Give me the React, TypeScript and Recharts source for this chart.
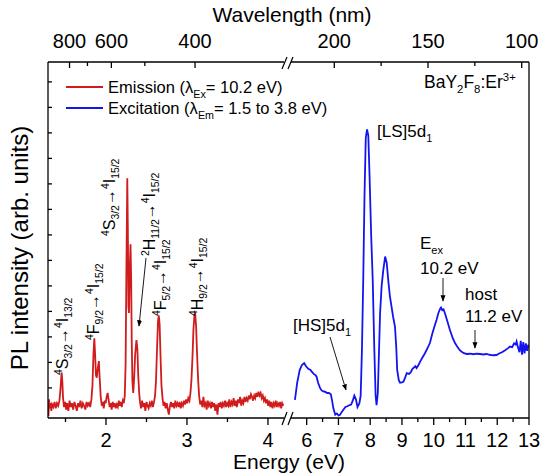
import React from 'react';
import { LineChart, Line, XAxis, YAxis } from 'recharts';

// emission spectrum (excited at 10.2 eV), energy in eV / intensity in arb. units
const emissionEnergy = [
  1.29, 1.297, 1.305, 1.315, 1.325, 1.335, 1.35, 1.365, 1.38, 1.395, 1.41, 1.425, 1.437, 1.446, 1.453, 1.461, 1.47,
  1.482, 1.495, 1.508, 1.52, 1.535, 1.55, 1.565, 1.58, 1.595, 1.61, 1.625, 1.64, 1.655, 1.67, 1.685, 1.7, 1.715,
  1.73, 1.745, 1.76, 1.775, 1.79, 1.805, 1.82, 1.833, 1.845, 1.856, 1.866, 1.876, 1.886, 1.9, 1.912, 1.922, 1.935,
  1.948, 1.96, 1.972, 1.985, 1.997, 2.008, 2.02, 2.032, 2.045, 2.058, 2.07, 2.083, 2.095, 2.108, 2.12, 2.133, 2.146,
  2.158, 2.17, 2.183, 2.195, 2.208, 2.22, 2.232, 2.242, 2.252, 2.263, 2.27, 2.277, 2.284, 2.292, 2.303, 2.311, 2.318,
  2.326, 2.336, 2.348, 2.36, 2.376, 2.388, 2.398, 2.41, 2.42, 2.433, 2.446, 2.46, 2.473, 2.486, 2.5, 2.513, 2.526,
  2.54, 2.553, 2.566, 2.58, 2.593, 2.606, 2.618, 2.63, 2.642, 2.652, 2.662, 2.673, 2.685, 2.698, 2.71, 2.723, 2.736,
  2.75, 2.763, 2.776, 2.79, 2.803, 2.816, 2.83, 2.843, 2.856, 2.87, 2.883, 2.896, 2.91, 2.923, 2.936, 2.95, 2.963,
  2.976, 2.99, 3.003, 3.016, 3.03, 3.043, 3.055, 3.068, 3.08, 3.092, 3.102, 3.113, 3.125, 3.138, 3.15, 3.163, 3.176,
  3.19, 3.203, 3.216, 3.23, 3.243, 3.256, 3.27, 3.283, 3.296, 3.31, 3.323, 3.336, 3.35, 3.363, 3.376, 3.39, 3.403,
  3.416, 3.43, 3.443, 3.456, 3.47, 3.483, 3.496, 3.51, 3.523, 3.536, 3.55, 3.563, 3.576, 3.59, 3.603, 3.616, 3.63,
  3.643, 3.656, 3.67, 3.683, 3.696, 3.71, 3.723, 3.736, 3.75, 3.763, 3.776, 3.79, 3.803, 3.816, 3.83, 3.843, 3.856,
  3.87, 3.883, 3.896, 3.91, 3.923, 3.936, 3.95, 3.963, 3.976, 3.99, 4.003, 4.016, 4.03, 4.043, 4.056, 4.07, 4.083,
  4.096, 4.11, 4.123, 4.136, 4.15, 4.163, 4.176, 4.19,
];
const emissionIntensity = [
  -1.1, -0.45, -0.8, -0.6, -0.9, -0.65, -0.75, -0.55, -0.8, -0.6, -0.7, -0.5, -0.1, 0.35, 0.6, 0.25, -0.4,
  -0.75, -0.55, -0.85, -0.6, -0.9, -0.5, -0.75, -0.6, -0.85, -0.55, -0.7, -0.9, -0.6, -0.75, -0.5, -0.8, -0.6,
  -0.7, -0.85, -0.55, -0.7, -0.6, -0.75, -0.45, 0.1, 1.3, 1.95, 1.3, 0.5, 0.4, 0.8, 1.05, 0.4, -0.35,
  -0.7, -0.55, -0.8, -0.5, -0.6, -0.35, -0.2, -0.45, -0.75, -0.6, -0.85, -0.55, -0.75, -0.6, -0.8, -0.65, -0.75,
  -0.5, -0.7, -0.55, -0.75, -0.5, -0.6, -0.3, 0.9, 4.6, 8.22, 6.2, 3.2, 2.94, 4.5, 5.63, 4.2, 1.8,
  0.3, -0.2, 0.4, 1.3, 1.88, 1.5, 0.5, -0.2, -0.55, -0.8, -0.5, -0.75, -0.6, -0.9, -0.55, -0.7, -0.8,
  -0.6, -0.7, -0.5, -0.75, -0.55, -0.3, 0.3, 1.5, 2.6, 2.84, 2.5, 1.3, 0.1, -0.4, -0.7, -0.55, -0.8,
  -0.6, -0.85, -1.05, -0.7, -0.55, -0.75, -0.6, -0.8, -0.5, -0.7, -0.6, -0.75, -0.55, -0.8, -0.6, -0.7, -0.5,
  -0.65, -0.45, -0.6, -0.4, -0.5, -0.2, 0.3, 1.2, 2.3, 2.85, 2.89, 2.4, 1.3, 0.3, -0.3, -0.65, -0.5,
  -0.75, -0.35, -0.7, -0.6, -0.85, -0.5, -0.7, -0.6, -0.8, -0.55, -0.75, -0.6, -0.9, -0.65, -1.05, -0.6, -0.75,
  -0.55, -0.8, -0.6, -0.7, -0.5, -0.75, -0.6, -0.7, -0.45, -0.75, -0.55, -0.65, -0.4, -0.7, -0.5, -0.75, -0.45,
  -0.6, -0.35, -0.7, -0.5, -0.6, -0.35, -0.55, -0.4, -0.5, -0.3, -0.45, -0.25, -0.35, -0.5, -0.3, -0.4, -0.2,
  -0.35, -0.15, -0.3, -0.2, -0.4, -0.3, -0.5, -0.4, -0.6, -0.45, -0.7, -0.5, -0.75, -0.55, -0.8, -0.6, -0.7,
  -0.5, -0.75, -0.6, -0.7, -0.55, -0.8, -0.6, -0.7,
];

// excitation spectrum (monitored 1.5 to 3.8 eV)
const excitationEnergy = [
  5.63, 5.7, 5.78, 5.85, 5.92, 5.98, 6.05, 6.12, 6.16, 6.22, 6.28, 6.31, 6.36, 6.42, 6.47, 6.52, 6.58, 6.64, 6.7,
  6.76, 6.8, 6.84, 6.9, 6.95, 7.0, 7.05, 7.1, 7.16, 7.22, 7.28, 7.34, 7.4, 7.45, 7.5, 7.55, 7.6, 7.66, 7.7, 7.74,
  7.78, 7.82, 7.86, 7.9, 7.94, 7.98, 8.03, 8.08, 8.13, 8.17, 8.2, 8.24, 8.31, 8.36, 8.41, 8.47, 8.52, 8.57, 8.62,
  8.67, 8.72, 8.78, 8.82, 8.85, 8.9, 8.94, 9.0, 9.05, 9.1, 9.15, 9.22, 9.28, 9.33, 9.38, 9.42, 9.46, 9.52, 9.58,
  9.65, 9.72, 9.8, 9.88, 9.95, 10.02, 10.09, 10.15, 10.2, 10.23, 10.27, 10.31, 10.35, 10.42, 10.51, 10.6, 10.67,
  10.75, 10.82, 10.88, 10.95, 11.04, 11.15, 11.25, 11.35, 11.46, 11.56, 11.66, 11.76, 11.86, 11.98, 12.06, 12.15,
  12.25, 12.33, 12.4, 12.47, 12.53, 12.58, 12.61, 12.65, 12.7, 12.74, 12.78, 12.82, 12.86, 12.9, 12.94, 12.98,
];
const excitationIntensity = [
  -0.47, 0.2, 0.7, 0.9, 0.97, 0.85, 0.75, 0.7, 0.64, 0.55, 0.5, 0.44, 0.2, 0.0, -0.1, -0.14, -0.15, -0.2, -0.2,
  -0.25, -0.5, -0.8, -1.05, -1.0, -1.08, -1.05, -0.95, -0.85, -0.75, -0.72, -0.68, -0.65, -0.5, -0.3, -0.45, -0.75, -0.6, -0.3, 1.5,
  4.2, 7.5, 9.8, 10.14, 9.9, 8.3, 6.0, 4.2, 1.5, -0.3, -0.68, -0.2, 2.9, 4.0, 4.6, 5.15, 4.9, 4.2, 3.6,
  3.2, 2.8, 2.4, 1.6, 0.7, 0.3, 0.2, 0.22, 0.25, 0.4, 0.58, 0.55, 0.62, 0.75, 0.8, 0.85, 0.78, 0.9, 1.05,
  1.2, 1.35, 1.55, 1.76, 2.1, 2.4, 2.67, 2.95, 3.1, 3.15, 3.05, 3.08, 2.94, 2.65, 2.27, 1.95, 1.76,
  1.6, 1.48, 1.42, 1.36, 1.33, 1.34, 1.32, 1.34, 1.33, 1.31, 1.33, 1.3, 1.28, 1.29, 1.35, 1.4,
  1.48, 1.55, 1.62, 1.6, 1.75, 1.7, 1.82, 1.6, 1.4, 1.85, 1.3, 1.8, 1.35, 1.75, 1.45, 1.7,
];

const energyTicksLeft = [1.5, 2, 2.5, 3, 3.5, 4];
const energyTicksRight = [6, 6.5, 7, 7.5, 8, 8.5, 9, 9.5, 10, 10.5, 11, 11.5, 12, 12.5, 13];
const wavelengthTicksLeft = [800, 700, 600, 500, 400];
const wavelengthTicksRight = [200, 175, 150, 125, 100];
const wavelengthLabels = [800, 600, 400, 200, 150, 100];
const intensityTicks = [0, 1, 2, 3, 4, 5, 6, 7, 8, 9, 10, 11, 12];

const HC = 1239.84;
const FONT = '"Liberation Sans", Arial, sans-serif';
const RED = '#d01c1c';
const BLUE = '#1414f0';
const Y_DOMAIN: [number, number] = [-1.18, 12.78];
const AXIS_LINE = { stroke: '#000', strokeWidth: 1.3 };

const emissionData = emissionEnergy.map((e, i) => ({ e, v: emissionIntensity[i] }));
const excitationData = excitationEnergy.map((e, i) => ({ e, v: excitationIntensity[i] }));

function BottomTick(props: any) {
  const { x, y, payload } = props;
  const major = Number.isInteger(payload.value);
  return (
    <g>
      <line x1={x} x2={x} y1={y} y2={y + (major ? 7 : 4)} stroke="#000" strokeWidth={1.3} />
      {major && (
        <text x={x} y={y + 29} textAnchor="middle" fontSize={20} fontFamily={FONT} fill="#000">
          {payload.value}
        </text>
      )}
    </g>
  );
}

function TopTick(props: any) {
  const { x, y, payload, fromEnergy } = props;
  const nm = fromEnergy ? Math.round(HC / payload.value) : payload.value;
  const major = wavelengthLabels.includes(nm);
  return (
    <g>
      <line x1={x} x2={x} y1={y} y2={y + (major ? 6 : 4)} stroke="#000" strokeWidth={1.3} />
      {major && (
        <text x={x} y={y - 14} textAnchor="middle" fontSize={20} fontFamily={FONT} fill="#000">
          {nm}
        </text>
      )}
    </g>
  );
}

function LeftTick(props: any) {
  const { x, y } = props;
  return <line x1={x} x2={x + 4} y1={y} y2={y} stroke="#000" strokeWidth={1.3} />;
}

type Part = { t: string; k?: 'sup' | 'sub' };

function Rich({ x, y, parts, size = 17, rotate = false, anchor = 'start' }: any) {
  let shift = 0;
  return (
    <text
      x={x}
      y={y}
      textAnchor={anchor}
      fontFamily={FONT}
      fontSize={size}
      fill="#000"
      transform={rotate ? `rotate(-90 ${x} ${y})` : undefined}
    >
      {(parts as Part[]).map((p, i) => {
        const target = p.k === 'sup' ? -size * 0.4 : p.k === 'sub' ? size * 0.28 : 0;
        const dy = target - shift;
        shift = target;
        return (
          <tspan key={i} dy={dy} fontSize={p.k ? size * 0.65 : size}>
            {p.t}
          </tspan>
        );
      })}
    </text>
  );
}

const trans = (a: string, aj: string, b: string, bj: string, ua = '4'): Part[] => [
  { t: ua, k: 'sup' },
  { t: a },
  { t: aj, k: 'sub' },
  { t: '\u2192' },
  { t: '4', k: 'sup' },
  { t: b },
  { t: bj, k: 'sub' },
];

function Arrow({ x1, y1, x2, y2 }: any) {
  return <line x1={x1} y1={y1} x2={x2} y2={y2} stroke="#000" strokeWidth={0.9} markerEnd="url(#ah)" />;
}

export default function App() {
  return (
    <div style={{ position: 'absolute', left: 0, top: 0, width: 540, height: 475, background: '#fff' }}>
      <div style={{ position: 'absolute', left: 0, top: 0 }}>
        <LineChart width={540} height={475} data={emissionData} margin={{ top: 32, right: 256, bottom: 27, left: 48 }}>
          <XAxis
            xAxisId="b"
            dataKey="e"
            type="number"
            domain={[1.284, 4.198]}
            allowDataOverflow
            ticks={energyTicksLeft}
            interval={0}
            height={30}
            tickSize={0}
            tickMargin={0}
            tickLine={false}
            tick={<BottomTick />}
            axisLine={AXIS_LINE}
          />
          <XAxis
            xAxisId="t"
            orientation="top"
            dataKey="e"
            type="number"
            domain={[1.284, 4.198]}
            allowDataOverflow
            ticks={wavelengthTicksLeft.map((nm) => HC / nm)}
            interval={0}
            height={30}
            tickSize={0}
            tickMargin={0}
            tickLine={false}
            tick={(p: any) => <TopTick {...p} fromEnergy />}
            axisLine={AXIS_LINE}
          />
          <YAxis
            type="number"
            domain={Y_DOMAIN}
            allowDataOverflow
            ticks={intensityTicks}
            interval={0}
            orientation="left"
            mirror
            width={1}
            tickSize={0}
            tickMargin={0}
            tickLine={false}
            tick={<LeftTick />}
            axisLine={AXIS_LINE}
          />
          <Line xAxisId="b" type="linear" dataKey="v" stroke={RED} strokeWidth={1.8} dot={false} isAnimationActive={false} />
        </LineChart>
      </div>
      <div style={{ position: 'absolute', left: 0, top: 0 }}>
        <LineChart width={540} height={475} data={excitationData} margin={{ top: 32, right: 11, bottom: 27, left: 291 }}>
          <XAxis
            xAxisId="b"
            dataKey="e"
            type="number"
            domain={[5.506, 13]}
            allowDataOverflow
            ticks={energyTicksRight}
            interval={0}
            height={30}
            tickSize={0}
            tickMargin={0}
            tickLine={false}
            tick={<BottomTick />}
            axisLine={AXIS_LINE}
          />
          <XAxis
            xAxisId="t"
            orientation="top"
            dataKey="nm"
            type="number"
            domain={[96.1, 223.1]}
            reversed
            allowDataOverflow
            ticks={wavelengthTicksRight}
            interval={0}
            height={30}
            tickSize={0}
            tickMargin={0}
            tickLine={false}
            tick={(p: any) => <TopTick {...p} />}
            axisLine={AXIS_LINE}
          />
          <YAxis
            type="number"
            domain={Y_DOMAIN}
            allowDataOverflow
            ticks={intensityTicks}
            interval={0}
            orientation="right"
            mirror
            width={1}
            tickLine={false}
            tick={false}
            axisLine={AXIS_LINE}
          />
          <Line xAxisId="b" type="linear" dataKey="v" stroke={BLUE} strokeWidth={1.8} dot={false} isAnimationActive={false} />
        </LineChart>
      </div>
      <svg width={540} height={475} style={{ position: 'absolute', left: 0, top: 0, pointerEvents: 'none' }}>
        <defs>
          <marker id="ah" viewBox="0 0 10 10" refX="9" refY="5" markerWidth="7" markerHeight="7" orient="auto">
            <path d="M0,1 L10,5 L0,9 Z" fill="#000" />
          </marker>
        </defs>
        {/* axis break marks */}
        <g stroke="#000" strokeWidth={1.2}>
          <line x1={282} y1={69} x2={287} y2={57} />
          <line x1={288} y1={69} x2={293} y2={57} />
          <line x1={282} y1={425} x2={287} y2={412} />
          <line x1={288} y1={425} x2={293} y2={412} />
        </g>
        {/* titles */}
        <text x={292} y={22} textAnchor="middle" fontSize={21} fontFamily={FONT}>Wavelength (nm)</text>
        <text x={289} y={469} textAnchor="middle" fontSize={21} fontFamily={FONT}>Energy (eV)</text>
        <text x={28} y={248} textAnchor="middle" fontSize={24} fontFamily={FONT} transform="rotate(-90 28 248)">
          PL intensity (arb. units)
        </text>
        {/* legend */}
        <line x1={66} x2={103} y1={87} y2={87} stroke={RED} strokeWidth={1.8} />
        <Rich x={108} y={93} size={16.5} parts={[{ t: 'Emission (\u03bb' }, { t: 'Ex', k: 'sub' }, { t: '= 10.2 eV)' }]} />
        <line x1={66} x2={103} y1={108} y2={108} stroke={BLUE} strokeWidth={1.8} />
        <Rich x={108} y={114} size={16.5} parts={[{ t: 'Excitation (\u03bb' }, { t: 'Em', k: 'sub' }, { t: '= 1.5 to 3.8 eV)' }]} />
        <Rich x={424} y={88} size={17.5} parts={[{ t: 'BaY' }, { t: '2', k: 'sub' }, { t: 'F' }, { t: '8', k: 'sub' }, { t: ':Er' }, { t: '3+', k: 'sup' }]} />
        {/* emission transitions */}
        <Rich x={68} y={375} size={16} rotate parts={trans('S', '3/2', 'I', '13/2')} />
        <Rich x={99} y={340} size={16} rotate parts={trans('F', '9/2', 'I', '15/2')} />
        <Rich x={115} y={236} size={16} rotate parts={trans('S', '3/2', 'I', '15/2')} />
        <Rich x={155} y={256} size={16} rotate parts={trans('H', '11/2', 'I', '15/2', '2')} />
        <Rich x={166} y={316} size={16} rotate parts={trans('F', '5/2', 'I', '15/2')} />
        <Rich x={203} y={316} size={16} rotate parts={trans('H', '9/2', 'I', '15/2')} />
        <Arrow x1={146} y1={258} x2={139} y2={326} />
        {/* excitation features */}
        <Rich x={377} y={137} parts={[{ t: '[LS]5d' }, { t: '1', k: 'sub' }]} />
        <Rich x={293} y={331} parts={[{ t: '[HS]5d' }, { t: '1', k: 'sub' }]} />
        <Arrow x1={330} y1={337} x2={346} y2={390} />
        <Rich x={420} y={249} parts={[{ t: 'E' }, { t: 'ex', k: 'sub' }]} />
        <Rich x={420} y={274} parts={[{ t: '10.2 eV' }]} />
        <Arrow x1={443} y1={278} x2={443} y2={301} />
        <Rich x={465} y={300} parts={[{ t: 'host' }]} />
        <Rich x={465} y={322} parts={[{ t: '11.2 eV' }]} />
        <Arrow x1={475} y1={330} x2={475} y2={348} />
      </svg>
    </div>
  );
}
